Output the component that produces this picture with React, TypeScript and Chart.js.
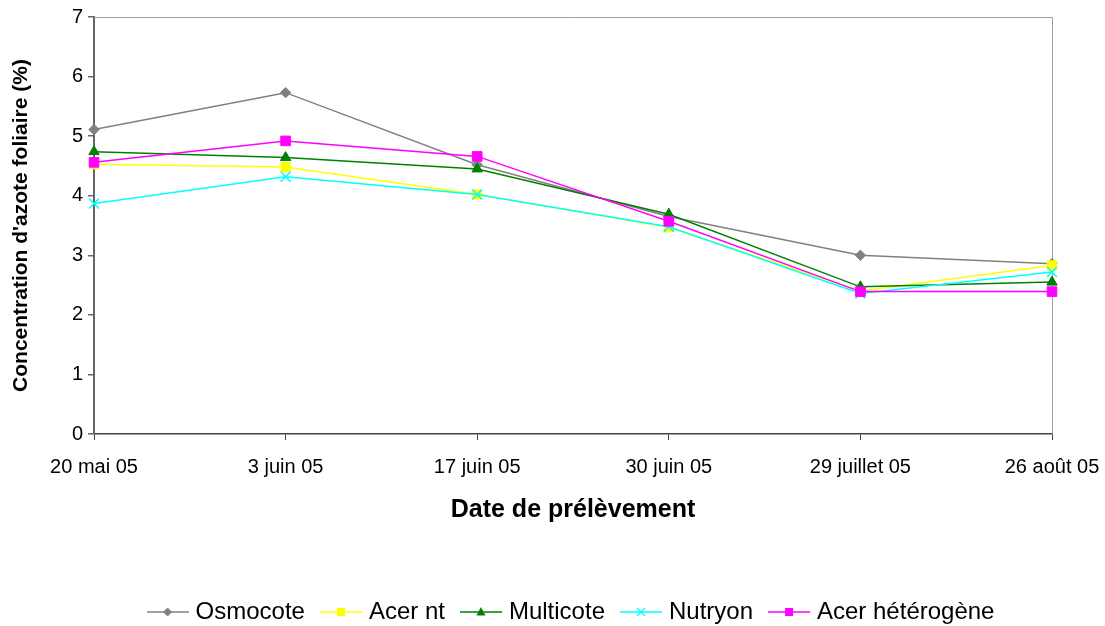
import React, { useEffect, useRef } from 'react';
import { Chart, registerables } from 'chart.js';

Chart.register(...registerables);

const FONT = '"Liberation Sans", Arial, Helvetica, sans-serif';

const categories = ['20 mai 05', '3 juin 05', '17 juin 05', '30 juin 05', '29 juillet 05', '26 août 05'];
const osmocote = [5.11, 5.73, 4.52, 3.65, 3.0, 2.86];
const acerNt = [4.53, 4.48, 4.02, 3.47, 2.4, 2.83];
const multicote = [4.74, 4.64, 4.45, 3.69, 2.47, 2.55];
const nutryon = [3.87, 4.32, 4.02, 3.48, 2.36, 2.72];
const acerHeterogene = [4.56, 4.92, 4.66, 3.57, 2.39, 2.39];
const seriesNames = ['Osmocote', 'Acer nt', 'Multicote', 'Nutryon', 'Acer hétérogène'];
const seriesColors = ['#808080', '#FFFF00', '#008000', '#00FFFF', '#FF00FF'];
const yMin = 0;
const yMax = 7;
const yStep = 1;
const yTitle = "Concentration d'azote foliaire (%)";
const xTitle = 'Date de prélèvement';

type Marker = 'rectRot' | 'rect' | 'triangle' | 'crossRot';
const markers: Marker[] = ['rectRot', 'rect', 'triangle', 'crossRot', 'rect'];
const radii = [5.2, 6.5, 6, 7, 6.8];

function makeLegendImage(color: string, marker: Marker): HTMLCanvasElement {
  const c = document.createElement('canvas');
  c.width = 42;
  c.height = 16;
  const ctx = c.getContext('2d')!;
  const cy = 8;
  ctx.strokeStyle = color;
  ctx.lineWidth = 1.5;
  ctx.beginPath();
  ctx.moveTo(0, cy);
  ctx.lineTo(42, cy);
  ctx.stroke();
  ctx.fillStyle = color;
  const cx = 21;
  ctx.beginPath();
  if (marker === 'rectRot') {
    ctx.moveTo(cx, cy - 4.5);
    ctx.lineTo(cx + 4.5, cy);
    ctx.lineTo(cx, cy + 4.5);
    ctx.lineTo(cx - 4.5, cy);
    ctx.closePath();
    ctx.fill();
  } else if (marker === 'rect') {
    ctx.rect(cx - 4, cy - 4, 8, 8);
    ctx.fill();
  } else if (marker === 'triangle') {
    ctx.moveTo(cx, cy - 5);
    ctx.lineTo(cx + 4.5, cy + 3.5);
    ctx.lineTo(cx - 4.5, cy + 3.5);
    ctx.closePath();
    ctx.fill();
  } else {
    ctx.lineWidth = 1.3;
    ctx.moveTo(cx - 4, cy - 4);
    ctx.lineTo(cx + 4, cy + 4);
    ctx.moveTo(cx + 4, cy - 4);
    ctx.lineTo(cx - 4, cy + 4);
    ctx.stroke();
  }
  return c;
}

const plotBorder = {
  id: 'plotBorder',
  beforeDatasetsDraw(chart: any) {
    const { ctx, chartArea } = chart;
    const { left, top, right, bottom } = chartArea;
    ctx.save();
    ctx.strokeStyle = '#a0a0a0';
    ctx.lineWidth = 1;
    ctx.beginPath();
    ctx.moveTo(left, top + 0.5);
    ctx.lineTo(right + 0.5, top + 0.5);
    ctx.lineTo(right + 0.5, bottom);
    ctx.stroke();
    ctx.restore();
  },
};

export default function App() {
  const ref = useRef<HTMLCanvasElement | null>(null);

  useEffect(() => {
    if (!ref.current) return;
    const values = [osmocote, acerNt, multicote, nutryon, acerHeterogene];
    const legendImages = seriesColors.map((c, i) => makeLegendImage(c, markers[i]));
    const datasets = values.map((v, i) => ({
      label: seriesNames[i],
      data: v,
      borderColor: seriesColors[i],
      backgroundColor: seriesColors[i],
      borderWidth: 1.5,
      pointStyle: markers[i],
      pointRadius: radii[i],
      pointBorderWidth: markers[i] === 'crossRot' ? 1.5 : 1,
      pointBackgroundColor: seriesColors[i],
      pointBorderColor: seriesColors[i],
      tension: 0,
      clip: false as any,
      order: values.length - i,
    }));

    const chart = new Chart(ref.current, {
      type: 'line',
      data: { labels: categories, datasets },
      plugins: [plotBorder],
      options: {
        animation: false,
        responsive: false,
        devicePixelRatio: 1,
        layout: { padding: { top: 16, right: 53, left: 0, bottom: -8 } },
        plugins: {
          tooltip: { enabled: false },
          legend: {
            position: 'bottom',
            fullSize: false,
            labels: {
              usePointStyle: true,
              pointStyleWidth: 32,
              padding: 20,
              color: '#000',
              font: { family: FONT, size: 24 },
              generateLabels: (ch: any) =>
                ch.data.datasets.map((ds: any, i: number) => ({
                  text: ds.label,
                  pointStyle: legendImages[i],
                  fillStyle: seriesColors[i],
                  strokeStyle: seriesColors[i],
                  lineWidth: 0,
                  hidden: false,
                  datasetIndex: i,
                  fontColor: '#000',
                })),
            },
          },
        },
        scales: {
          x: {
            type: 'category',
            offset: false,
            grid: {
              display: true,
              drawOnChartArea: false,
              drawTicks: true,
              tickLength: 6,
              color: '#444',
              lineWidth: 1,
            },
            border: { display: true, color: '#444', width: 1.5 },
            ticks: {
              color: '#000',
              font: { family: FONT, size: 20 },
              padding: 15,
              maxRotation: 0,
              autoSkip: false,
            },
            title: {
              display: true,
              text: xTitle,
              color: '#000',
              font: { family: FONT, size: 25, weight: 'bold' },
              padding: { top: 0, bottom: 55 },
            },
            afterFit: (s: any) => {
              s.height = 146;
              s.paddingLeft = 0;
              s.paddingRight = 0;
            },
          },
          y: {
            min: yMin,
            max: yMax,
            grid: {
              display: true,
              drawOnChartArea: false,
              drawTicks: true,
              tickLength: 6,
              color: '#666',
              lineWidth: 1.5,
            },
            border: { display: true, color: '#666', width: 2 },
            ticks: {
              stepSize: yStep,
              color: '#000',
              font: { family: FONT, size: 20 },
              padding: 5,
            },
            title: {
              display: true,
              text: yTitle,
              color: '#000',
              font: { family: FONT, size: 21, weight: 'bold' },
              padding: { top: 9, bottom: 0 },
            },
            afterFit: (s: any) => {
              s.width = 94;
            },
          },
        },
      },
    } as any);
    return () => chart.destroy();
  }, []);

  return (
    <div style={{ position: 'absolute', left: 0, top: 0, width: 1105, height: 626, background: '#fff' }}>
      <canvas ref={ref} width={1105} height={626} style={{ display: 'block', width: 1105, height: 626 }} />
    </div>
  );
}
